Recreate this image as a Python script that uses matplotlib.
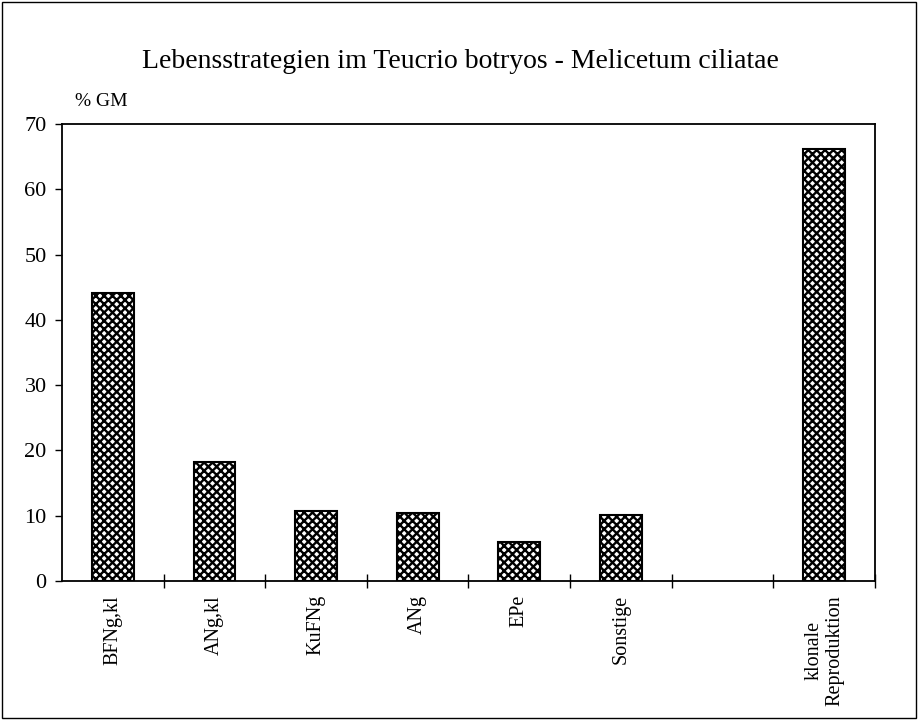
import matplotlib
matplotlib.use("Agg")
import matplotlib.pyplot as plt
import numpy as np
from matplotlib.patches import Rectangle

plt.rcParams['font.family'] = ['Liberation Serif', 'DejaVu Serif']
plt.rcParams['hatch.linewidth'] = 1.7

categories = ["BFNg,kl", "ANg,kl", "KuFNg", "ANg", "EPe", "Sonstige", "", "klonale\nReproduktion"]
values = [44.1, 18.2, 10.7, 10.4, 6.0, 10.1, np.nan, 66.2]
yticks = [0, 10, 20, 30, 40, 50, 60, 70]

fig = plt.figure(figsize=(9.2, 7.2), dpi=100)
ax = fig.add_axes([62/920, 1-581/720, (875-62)/920, (581-124)/720])

x = np.arange(len(categories))
ax.bar(x, values, width=0.41, facecolor='white', edgecolor='black', hatch='xxxx', linewidth=1.5)

ax.set_xlim(-0.5, len(categories) - 0.5)
ax.set_ylim(0, 70)
ax.set_yticks(yticks)
ax.set_yticklabels([str(v) for v in yticks], fontsize=16)
ax.set_xticks(np.arange(len(categories)) + 0.5)
ax.set_xticklabels([])
ax.set_xticks(x, minor=True)
ax.set_xticklabels(categories, minor=True, rotation=90, fontsize=14.5, va='top', ha='center',
                   linespacing=1.15)
ax.tick_params(axis='x', which='major', direction='inout', length=10, width=1)
ax.tick_params(axis='x', which='minor', length=0, pad=10)
ax.tick_params(axis='y', direction='out', length=5, width=1, pad=6)
for s in ax.spines.values():
    s.set_linewidth(1.3)

fig.text(0.5, 1-61/720, "Lebensstrategien im Teucrio botryos - Melicetum ciliatae",
         ha='center', va='center', fontsize=20)
fig.text(75/920, 1-101/720, "% GM", ha='left', va='center', fontsize=14)

fig.patches.append(Rectangle((2/920, 2/720), 914/920, 716/720, transform=fig.transFigure,
                             fill=False, edgecolor='black', linewidth=1.0))

fig.savefig("out.png", dpi=100)
